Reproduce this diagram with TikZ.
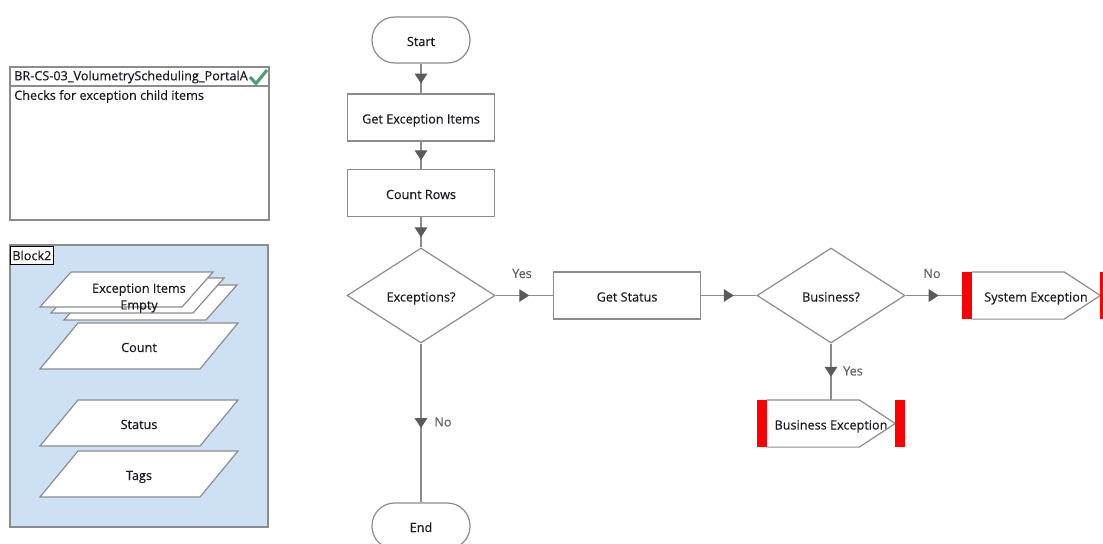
\documentclass[tikz,border=0pt]{standalone}
\usepackage{fontspec}
\setmainfont{Open Sans}[FakeBold=0.3]
\usepackage{tikz}
\usetikzlibrary{positioning, shapes.geometric, arrows.meta, decorations.markings}

\definecolor{linegray}{RGB}{140,140,140}
\definecolor{tipgray}{RGB}{90,90,90}
\definecolor{labelgray}{RGB}{100,100,100}
\definecolor{textdark}{RGB}{25,25,35}
\definecolor{blockblue}{RGB}{205,224,244}
\definecolor{exred}{RGB}{250,0,0}
\definecolor{checkgreen}{RGB}{80,160,115}

\tikzset{
    every node/.style={font=\fontsize{9.5pt}{12.5pt}\selectfont, text=textdark},
    lowtext/.style={text height=9pt, text depth=0pt},
    termbox/.style={draw=linegray, line width=0.9pt, fill=white, rounded corners=17pt,
        minimum width=73.5pt, minimum height=34.5pt, inner sep=0pt, lowtext},
    procbox/.style={draw=linegray, line width=0.9pt, fill=white,
        minimum width=110.25pt, minimum height=35.25pt, inner sep=0pt, lowtext},
    decbox/.style={diamond, draw=linegray, line width=0.9pt, fill=white,
        minimum width=111pt, minimum height=71.25pt, inner sep=0pt, lowtext},
    exbox/.style={minimum width=111pt, minimum height=35pt, inner sep=0pt, lowtext},
    exline/.style={draw=linegray, line width=0.9pt},
    datashape/.style={draw=linegray, line width=0.9pt, fill=white},
    flowline/.style={draw=linegray, line width=0.9pt, postaction={decorate},
        decoration={markings, mark=at position 0.5 with
            {\arrow[xshift=3.75pt, color=tipgray]{Triangle[length=7.5pt, width=9.5pt]}}}},
    yesno/.style={text=labelgray}
}

\begin{document}
\begin{tikzpicture}[x=0.75pt, y=-0.75pt]
    \useasboundingbox (0,0) rectangle (1103,543);

    % ==========================================
    % LEFT: page info and data block
    % ==========================================
    % Info box with title row
    \draw[draw=linegray, line width=0.9pt] (10,67) rectangle (269,220);
    \draw[draw=linegray, line width=0.9pt] (10,86) -- (269,86);
    \begin{scope}
        \clip (11,68) rectangle (262,85);
        \node[anchor=west, inner sep=0pt] (pagetitle) at (14,77) {BR-CS-03\_VolumetryScheduling\_PortalA};
    \end{scope}
    \draw[checkgreen, line width=2.4pt] (250,77) -- (256,83.5) -- (267,70);
    \node[anchor=west, inner sep=0pt] (pagedesc) at (14,96.5) {Checks for exception child items};

    % Block2 with data items
    \draw[draw=linegray, line width=0.9pt, fill=blockblue] (10,245) rectangle (268,527);
    \node[draw=black, line width=0.6pt, fill=white, inner sep=1.5pt, minimum height=13.5pt, anchor=north west] (blocklabel) at (10,246) {Block2};

    % Collection: three stacked parallelograms
    \foreach \dx/\dy in {24/13, 11/6, 0/0} {
        \draw[datashape] (40+\dx,307+\dy) -- (71+\dx,272+\dy) -- (213+\dx,272+\dy) -- (182+\dx,307+\dy) -- cycle;
    }
    \node[align=center, inner sep=0pt] (dempty) at (139,298) {Exception Items\\Empty};

    % Single data items
    \foreach \dy/\dname in {323/Count, 400/Status, 451/Tags} {
        \draw[datashape] (40,\dy+46) -- (78,\dy) -- (238,\dy) -- (200,\dy+46) -- cycle;
        \node[lowtext] (d\dname) at (139,\dy+23) {\dname};
    }

    % ==========================================
    % RIGHT: process flow
    % ==========================================
    \node[termbox] (start) at (421,40) {Start};
    \node[procbox] (getitems) at (421,117.5) {Get Exception Items};
    \node[procbox] (countrows) at (421,193) {Count Rows};
    \node[decbox] (hasexc) at (421,295.5) {Exceptions?};
    \node[procbox] (getstatus) at (627,295.5) {Get Status};
    \node[decbox] (business) at (831,295.5) {Business?};
    \node[exbox] (sysex) at (1036,295.5) {System Exception};
    \node[exbox] (busex) at (831,423.5) {Business Exception};
    \node[termbox] (end) at (421,526) {End};

    % Exception stage shapes (body + red bars)
    \foreach \ex in {sysex, busex} {
        \draw[exline] ([xshift=7.5pt]\ex.north west) -- ([xshift=-34.5pt]\ex.north east)
            -- ([xshift=-7.5pt]\ex.east) -- ([xshift=-34.5pt]\ex.south east)
            -- ([xshift=7.5pt]\ex.south west);
        \fill[exred] (\ex.north west) rectangle ([xshift=7.5pt]\ex.south west);
        \fill[exred] ([xshift=-7.5pt]\ex.north east) rectangle (\ex.south east);
    }

    % Connectors
    \draw[flowline] (start.south) -- (getitems.north);
    \draw[flowline] (getitems.south) -- (countrows.north);
    \draw[flowline] (countrows.south) -- (hasexc.north);
    \draw[flowline] (hasexc.east) -- (getstatus.west);
    \draw[flowline] (getstatus.east) -- (business.west);
    \draw[flowline] (business.east) -- (sysex.west);
    \draw[flowline] (business.south) -- (busex.north);
    \draw[flowline] (hasexc.south) -- (end.north);

    % Branch labels
    \node[yesno] (lyes1) at (522,273.5) {Yes};
    \node[yesno] (lno1) at (932,273.5) {No};
    \node[yesno] (lyes2) at (853,371) {Yes};
    \node[yesno] (lno2) at (443,422) {No};

\end{tikzpicture}
\end{document}
